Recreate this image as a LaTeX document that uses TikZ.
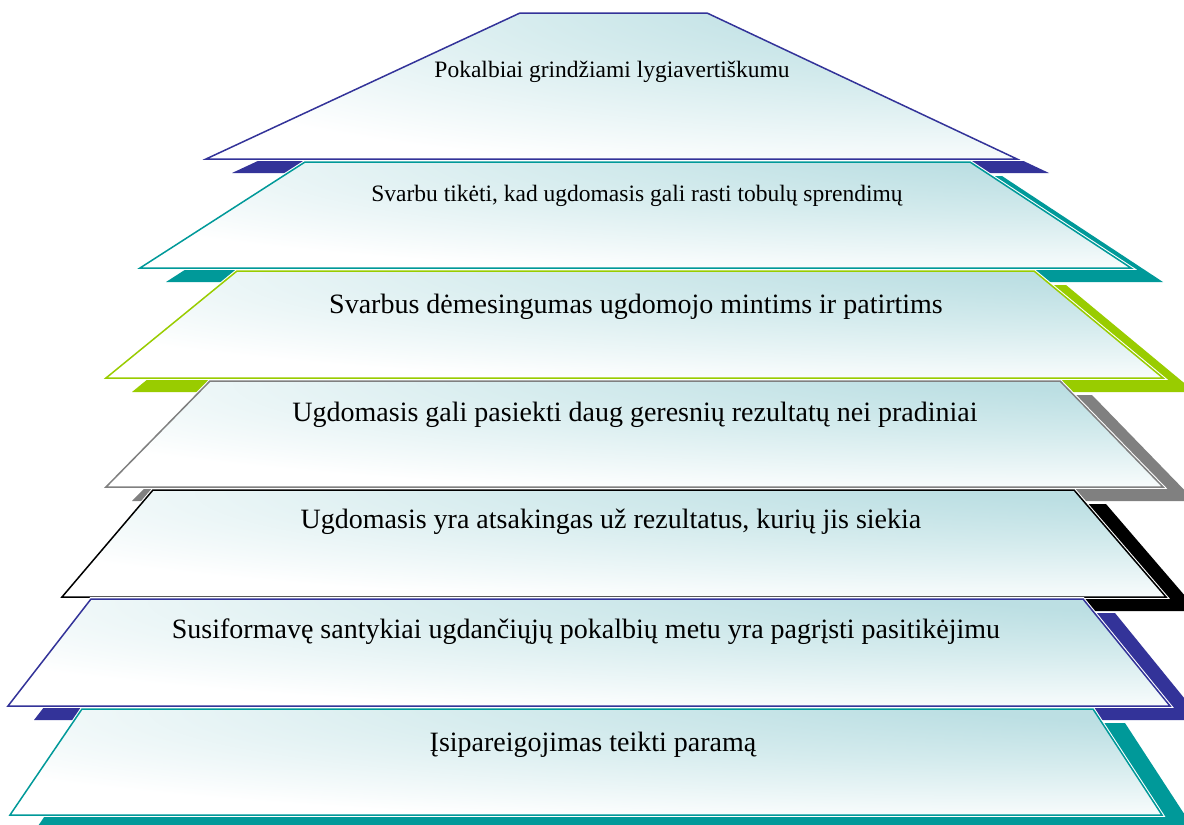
\documentclass[tikz,border=0pt]{standalone}
\usepackage{fontspec}
\setmainfont{Liberation Serif}
\definecolor{navy}{RGB}{51,51,153}
\definecolor{tealc}{RGB}{0,153,153}
\definecolor{limec}{RGB}{153,204,0}
\definecolor{greyc}{RGB}{128,128,128}
\definecolor{glowcyan}{RGB}{188,223,227}
\definecolor{glowmid}{RGB}{214,236,238}
% soft cyan glow in the upper right of each band, fading to white
\pgfdeclareradialshading{layerglow}{\pgfpoint{35bp}{40bp}}{%
  color(0bp)=(glowcyan); color(16bp)=(glowcyan); color(30bp)=(glowmid); color(50bp)=(white); color(100bp)=(white)}
\tikzset{
  bandface/.style={draw=#1, line width=1.5pt, line join=miter, shade, shading=layerglow},
  bandhalo/.style={draw=white, line width=3.6pt},
  bandshadow/.style={fill=#1, draw=none},
  biglbl/.style={font=\fontsize{28}{32}\selectfont, inner sep=0pt, anchor=base},
  smalllbl/.style={font=\fontsize{23.5}{27}\selectfont, inner sep=0pt, anchor=base}
}
% one band of the stack: colour, top-left x, top-right x, top y, bottom-left x, bottom-right x, bottom y
\newcommand\layerband[7]{%
  \path[bandshadow=#1] ({#2+26},{#4+14}) -- ({#3+32},{#4+14}) -- ({#6+32},{#7+14}) -- ({#5+26},{#7+14}) -- cycle;
  \path[bandhalo] (#2,#4) -- (#3,#4) -- (#6,#7) -- (#5,#7) -- cycle;
  \path[bandface=#1] (#2,#4) -- (#3,#4) -- (#6,#7) -- (#5,#7) -- cycle;
}
\begin{document}
\begin{tikzpicture}[x=1pt, y=-1pt]
\clip (0,0) rectangle (1184,825);
\fill[white] (0,0) rectangle (1184,825);

\layerband{navy}{520}{707}{13}{206}{1017}{159}
\layerband{tealc}{305}{970}{162}{140}{1131}{268}
\layerband{limec}{237}{1034}{271}{106}{1163}{378}
\layerband{greyc}{210}{1060}{381}{106}{1163}{487}
\layerband{black}{153}{1074}{490}{62}{1166}{597}
\layerband{navy}{91}{1083}{599}{8}{1170}{706}
\layerband{tealc}{82}{1093}{709}{10}{1162}{815}

\node[smalllbl] (t1) at (612,77) {Pokalbiai grindžiami lygiavertiškumu};
\node[smalllbl] (t2) at (637,201) {Svarbu tikėti, kad ugdomasis gali rasti tobulų sprendimų};
\node[biglbl] (t3) at (636,313) {Svarbus dėmesingumas ugdomojo mintims ir patirtims};
\node[biglbl] (t4) at (635,421) {Ugdomasis gali pasiekti daug geresnių rezultatų nei pradiniai};
\node[biglbl] (t5) at (611,528) {Ugdomasis yra atsakingas už rezultatus, kurių jis siekia};
\node[biglbl] (t6) at (586,638) {Susiformavę santykiai ugdančiųjų pokalbių metu yra pagrįsti pasitikėjimu};
\node[biglbl] (t7) at (593,751) {Įsipareigojimas teikti paramą};
\end{tikzpicture}
\end{document}
